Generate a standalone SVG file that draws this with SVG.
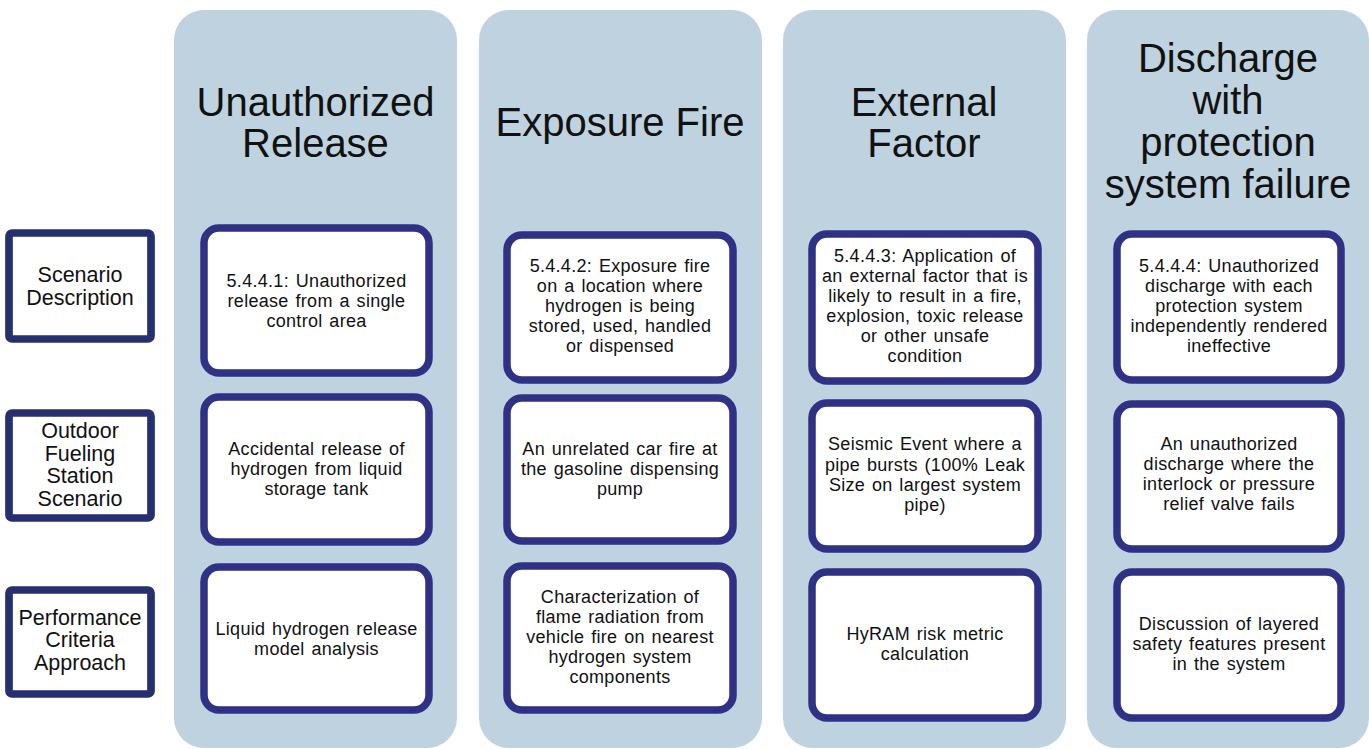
<svg xmlns="http://www.w3.org/2000/svg" width="1369" height="749" viewBox="0 0 1369 749">
<style>
.col{fill:#bed2df}
.box{fill:#fff;stroke:#2f3185;stroke-width:7.5}
.lbl{fill:#fff;stroke:#27306f;stroke-width:7.7}
.h{font-family:"Liberation Sans",Arial,sans-serif;font-size:40px;fill:#111;text-anchor:middle}
.t{font-family:"Liberation Sans",Arial,sans-serif;font-size:18px;fill:#111;text-anchor:middle;letter-spacing:0.3px;word-spacing:1.5px}
.l{font-family:"Liberation Sans",Arial,sans-serif;font-size:21.5px;fill:#111;text-anchor:middle}
</style>
<rect width="1369" height="749" fill="#fff"/>
<g id="col-unauthorized-release">
<rect class="col" x="174" y="10" width="283" height="738" rx="30"/>
<text class="h"><tspan x="315.5" y="116">Unauthorized</tspan><tspan x="315.5" y="157">Release</tspan></text>
</g>
<g id="col-exposure-fire">
<rect class="col" x="479" y="10" width="283" height="738" rx="30"/>
<text class="h" x="620" y="136">Exposure Fire</text>
</g>
<g id="col-external-factor">
<rect class="col" x="783" y="10" width="283" height="738" rx="30"/>
<text class="h"><tspan x="924" y="116">External</tspan><tspan x="924" y="157">Factor</tspan></text>
</g>
<g id="col-discharge">
<rect class="col" x="1087" y="10" width="282" height="738" rx="30"/>
<text class="h"><tspan x="1228" y="72">Discharge</tspan><tspan x="1228" y="114">with</tspan><tspan x="1228" y="156">protection</tspan><tspan x="1228" y="198">system failure</tspan></text>
</g>
<g id="label-scenario-description">
<rect class="lbl" x="9" y="233" width="142" height="106" rx="3"/>
<text class="l"><tspan x="80" y="282">Scenario</tspan><tspan x="80" y="305">Description</tspan></text>
</g>
<g id="label-outdoor-fueling">
<rect class="lbl" x="9" y="413" width="142" height="105" rx="3"/>
<text class="l"><tspan x="80" y="437.5">Outdoor</tspan><tspan x="80" y="460.5">Fueling</tspan><tspan x="80" y="483">Station</tspan><tspan x="80" y="506">Scenario</tspan></text>
</g>
<g id="label-performance-criteria">
<rect class="lbl" x="9" y="590" width="142" height="104" rx="3"/>
<text class="l"><tspan x="80" y="624.5">Performance</tspan><tspan x="80" y="647">Criteria</tspan><tspan x="80" y="669.5">Approach</tspan></text>
</g>
<g id="box-c1r1">
<rect class="box" x="204" y="228" width="225" height="145" rx="15"/>
<text class="t"><tspan x="316.5" y="287">5.4.4.1: Unauthorized</tspan><tspan x="316.5" y="307">release from a single</tspan><tspan x="316.5" y="327">control area</tspan></text>
</g>
<g id="box-c1r2">
<rect class="box" x="204" y="397" width="225" height="145" rx="15"/>
<text class="t"><tspan x="316.5" y="455">Accidental release of</tspan><tspan x="316.5" y="475">hydrogen from liquid</tspan><tspan x="316.5" y="495">storage tank</tspan></text>
</g>
<g id="box-c1r3">
<rect class="box" x="204" y="567" width="225" height="143" rx="15"/>
<text class="t"><tspan x="316.5" y="635">Liquid hydrogen release</tspan><tspan x="316.5" y="655">model analysis</tspan></text>
</g>
<g id="box-c2r1">
<rect class="box" x="507" y="235" width="226" height="145" rx="15"/>
<text class="t"><tspan x="620" y="272">5.4.4.2: Exposure fire</tspan><tspan x="620" y="292">on a location where</tspan><tspan x="620" y="312">hydrogen is being</tspan><tspan x="620" y="332">stored, used, handled</tspan><tspan x="620" y="352">or dispensed</tspan></text>
</g>
<g id="box-c2r2">
<rect class="box" x="507" y="398" width="226" height="143" rx="15"/>
<text class="t"><tspan x="620" y="455">An unrelated car fire at</tspan><tspan x="620" y="475">the gasoline dispensing</tspan><tspan x="620" y="495">pump</tspan></text>
</g>
<g id="box-c2r3">
<rect class="box" x="507" y="566" width="226" height="144" rx="15"/>
<text class="t"><tspan x="620" y="603">Characterization of</tspan><tspan x="620" y="623">flame radiation from</tspan><tspan x="620" y="643">vehicle fire on nearest</tspan><tspan x="620" y="663">hydrogen system</tspan><tspan x="620" y="683">components</tspan></text>
</g>
<g id="box-c3r1">
<rect class="box" x="812" y="234" width="226" height="147" rx="15"/>
<text class="t"><tspan x="925" y="262">5.4.4.3: Application of</tspan><tspan x="925" y="282">an external factor that is</tspan><tspan x="925" y="302">likely to result in a fire,</tspan><tspan x="925" y="322">explosion, toxic release</tspan><tspan x="925" y="342">or other unsafe</tspan><tspan x="925" y="362">condition</tspan></text>
</g>
<g id="box-c3r2">
<rect class="box" x="812" y="403" width="226" height="146" rx="15"/>
<text class="t"><tspan x="925" y="450">Seismic Event where a</tspan><tspan x="925" y="471">pipe bursts (100% Leak</tspan><tspan x="925" y="491">Size on largest system</tspan><tspan x="925" y="511">pipe)</tspan></text>
</g>
<g id="box-c3r3">
<rect class="box" x="812" y="572" width="226" height="146" rx="15"/>
<text class="t"><tspan x="925" y="640">HyRAM risk metric</tspan><tspan x="925" y="660">calculation</tspan></text>
</g>
<g id="box-c4r1">
<rect class="box" x="1117" y="234" width="224" height="146" rx="15"/>
<text class="t"><tspan x="1229" y="272">5.4.4.4: Unauthorized</tspan><tspan x="1229" y="292">discharge with each</tspan><tspan x="1229" y="312">protection system</tspan><tspan x="1229" y="332">independently rendered</tspan><tspan x="1229" y="352">ineffective</tspan></text>
</g>
<g id="box-c4r2">
<rect class="box" x="1117" y="404" width="224" height="145" rx="15"/>
<text class="t"><tspan x="1229" y="450">An unauthorized</tspan><tspan x="1229" y="470">discharge where the</tspan><tspan x="1229" y="490">interlock or pressure</tspan><tspan x="1229" y="510">relief valve fails</tspan></text>
</g>
<g id="box-c4r3">
<rect class="box" x="1117" y="572" width="224" height="146" rx="15"/>
<text class="t"><tspan x="1229" y="630">Discussion of layered</tspan><tspan x="1229" y="650">safety features present</tspan><tspan x="1229" y="670">in the system</tspan></text>
</g>
<g id="connectors"/>
</svg>
